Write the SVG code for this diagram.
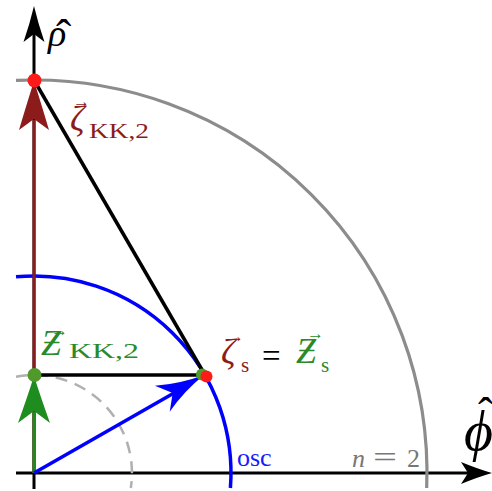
<svg xmlns="http://www.w3.org/2000/svg" width="492" height="491" viewBox="0 0 492 491">
<style>
.ax{stroke:#000;stroke-width:3;fill:none}
.hd{stroke:none}
.arc{fill:none}
.grey{stroke:#8c8c8c;stroke-width:3.2}
.blue{stroke:#0000ff;stroke-width:3.5}
.dash{stroke:#b0b0b0;stroke-width:2.5;stroke-dasharray:12 8}
.blk{stroke:#000;stroke-width:3.5;fill:none}
.t{font-family:"Liberation Serif","DejaVu Serif",serif}
.i{font-style:italic}
.dr{fill:#8c1c1c}
.gr{fill:#2a8a2a}
</style>
<rect width="492" height="491" fill="#fff"/>
<g id="axes">
  <line class="ax" x1="16" y1="473" x2="470" y2="473"/>
  <path class="hd" fill="#000" d="M492,473 Q478,477 461,484 L468,473 L461,462 Q478,469 492,473Z"/>
  <line class="ax" x1="34" y1="489" x2="34" y2="30"/>
  <path class="hd" fill="#000" d="M34,6 Q38,23 44.5,42 L34,34 L23.5,42 Q30,23 34,6Z"/>
</g>
<g id="circles">
  <path id="n2-circle" class="arc grey" d="M16,80.4 A393,393 0 0 1 426.7,488"/>
  <path id="osc-circle" class="arc blue" d="M16,276.8 A197,197 0 0 1 230.4,488"/>
  <path id="inner-circle" class="arc dash" d="M16,376.7 A98,98 0 0 1 130.8,488"/>
</g>
<g id="connectors">
  <line stroke="#8c1c1c" stroke-width="3" x1="34" y1="473" x2="34" y2="120"/>
  <path class="hd" fill="#8c1c1c" d="M34,81 Q41,103 49,130 L34,119 L19,130 Q27,103 34,81Z"/>
  <line stroke="#1f8c1f" stroke-width="3" x1="34" y1="473" x2="34" y2="412"/>
  <path class="hd" fill="#1f8c1f" d="M34,376 Q41,398 50,423 L34,411 L18,423 Q27,398 34,376Z"/>
  <line stroke="#0000ff" stroke-width="3.5" x1="34" y1="473" x2="174" y2="393"/>
  <path class="hd" fill="#0000ff" d="M204,375 Q184,391 169.7,411.8 L172.7,392.9 L154.9,385.8 Q180,384 204,375Z"/>
  <line class="blk" x1="34" y1="80" x2="205" y2="375"/>
  <line class="blk" x1="34" y1="375" x2="205" y2="375"/>
</g>
<g id="node-top">
  <circle cx="34.5" cy="80.5" r="7" fill="#ff1a1a"/>
</g>
<g id="node-zkk">
  <circle cx="34.5" cy="375" r="7" fill="#4f9a2a"/>
</g>
<g id="node-s">
  <circle cx="202" cy="374.5" r="6" fill="#4f9a2a"/>
  <circle cx="206.5" cy="376.5" r="6" fill="#ff1a1a"/>
</g>
<g id="labels">
  <text class="t"><tspan class="i" x="48" y="46" font-size="38">ρ</tspan><tspan x="56" y="52" font-size="46">ˆ</tspan></text>
  <text class="t"><tspan class="i" x="464" y="450" font-size="56">ϕ</tspan><tspan x="478" y="430" font-size="46">ˆ</tspan></text>

  <text class="t dr"><tspan x="73" y="107" font-size="17">→</tspan><tspan class="i" x="70" y="131" font-size="36">ζ</tspan><tspan x="89" y="138" font-size="21" textLength="60" lengthAdjust="spacingAndGlyphs">KK,2</tspan></text>

  <text class="t gr"><tspan x="51" y="336" font-size="17">→</tspan><tspan class="i" x="41" y="355" font-size="36">Ƶ</tspan><tspan x="69" y="358" font-size="21" textLength="70" lengthAdjust="spacingAndGlyphs">KK,2</tspan></text>

  <text class="t"><tspan class="dr" x="227" y="342" font-size="17">→</tspan><tspan class="i dr" x="221" y="364" font-size="36">ζ</tspan><tspan class="dr" x="241" y="372" font-size="21">s</tspan><tspan x="262" y="367" font-size="33">=</tspan><tspan class="gr" x="307" y="339" font-size="17">→</tspan><tspan class="i gr" x="296" y="363" font-size="36">Ƶ</tspan><tspan class="gr" x="321" y="372" font-size="21">s</tspan></text>

  <text class="t" x="237" y="466" font-size="26" fill="#1a1aff">osc</text>

  <text class="t" font-size="26" fill="#777"><tspan class="i" x="352" y="467">n</tspan><tspan x="373" y="467" font-size="30" textLength="24" lengthAdjust="spacingAndGlyphs">=</tspan><tspan x="407" y="467">2</tspan></text>
</g>
</svg>
